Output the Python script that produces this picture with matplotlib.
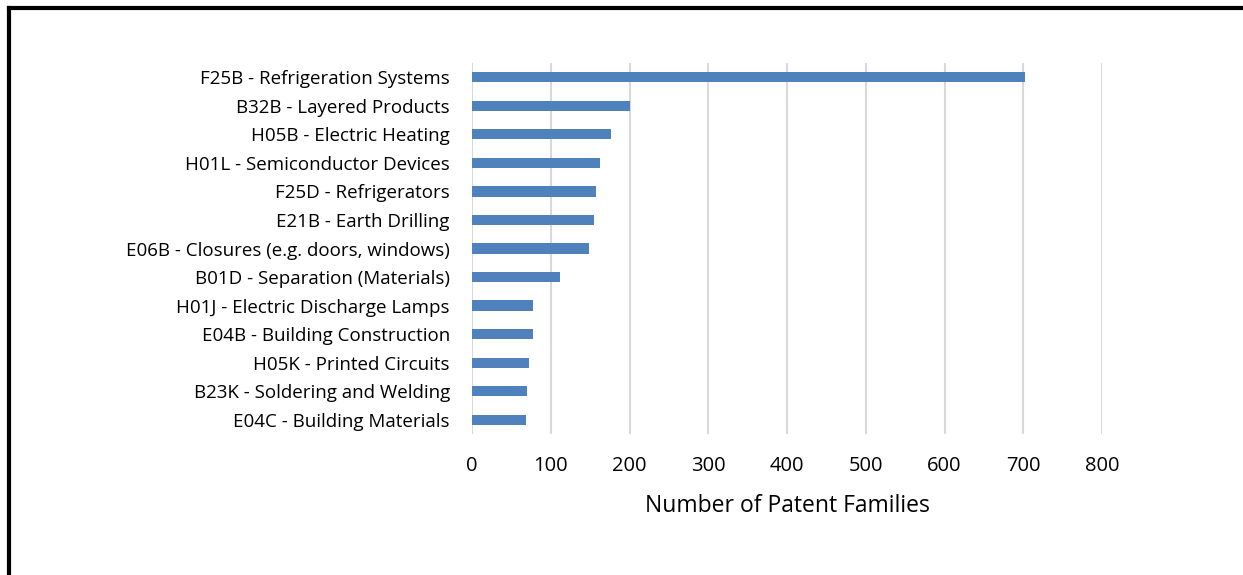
import matplotlib.pyplot as plt
from matplotlib.lines import Line2D

categories = [
    "F25B - Refrigeration Systems",
    "B32B - Layered Products",
    "H05B - Electric Heating",
    "H01L - Semiconductor Devices",
    "F25D - Refrigerators",
    "E21B - Earth Drilling",
    "E06B - Closures (e.g. doors, windows)",
    "B01D - Separation (Materials)",
    "H01J - Electric Discharge Lamps",
    "E04B - Building Construction",
    "H05K - Printed Circuits",
    "B23K - Soldering and Welding",
    "E04C - Building Materials",
]
values = [702, 200, 177, 163, 158, 155, 149, 112, 78, 77, 72, 70, 69]
xticks = [0, 100, 200, 300, 400, 500, 600, 700, 800]

plt.rcParams['font.family'] = ['Open Sans', 'DejaVu Sans']

fig = plt.figure(figsize=(12.43, 5.75), dpi=100)
ax = fig.add_axes([472/1243, 1-434/575, 630/1243, 371/575])

pos = list(range(len(categories)))[::-1]
ax.barh(pos, values, height=0.36, color='#4f81bd', zorder=3)
ax.set_xlim(0, 800)
ax.set_ylim(-0.5, len(categories)-0.5)
ax.set_xticks(xticks)
ax.set_xticklabels([str(t) for t in xticks], fontsize=14.5)
ax.set_yticks(pos)
ax.set_yticklabels(categories, fontsize=13.5)
ax.tick_params(axis='x', length=0, pad=16)
ax.tick_params(axis='y', length=0, pad=16)
ax.grid(axis='x', color='#d9d9d9', linewidth=1.5, zorder=0)
for s in ax.spines.values():
    s.set_visible(False)
ax.set_xlabel("Number of Patent Families", fontsize=16.5, labelpad=13)

# black frame (left and top)
fig.add_artist(Line2D([9/1243, 9/1243], [0, 1-8/575], color='black', linewidth=3, transform=fig.transFigure))
fig.add_artist(Line2D([9/1243, 1], [1-8/575, 1-8/575], color='black', linewidth=3, transform=fig.transFigure))

fig.savefig("out.png", dpi=100)
